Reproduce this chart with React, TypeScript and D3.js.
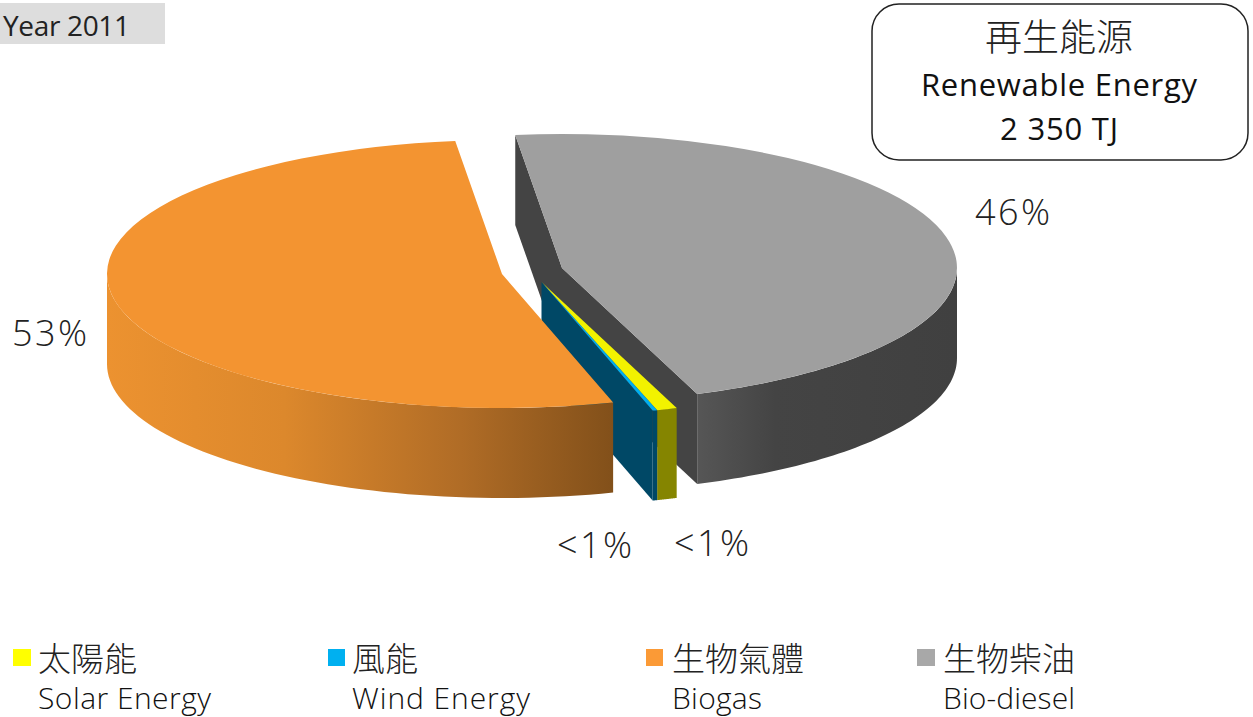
import React from "react";
import * as d3 from "d3";

const categoriesZh = ["生物柴油", "太陽能", "風能", "生物氣體"];
const categoriesEn = ["Bio-diesel", "Solar Energy", "Wind Energy", "Biogas"];
const shares = [46.33, 0.83, 0.19, 52.65];
const pctLabels = ["46%", "<1%", "<1%", "53%"];
const topColors = ["#9f9f9f", "#f2f200", "#00aeef", "#f39431"];
const legendColors = ["#a8a8a8", "#ffff00", "#00b0f0", "#fb9a36"];
const wallColors = ["#444444", "#858500", "#004866", "#8a541c"];

const W = 1253, H = 717;
const RX = 395, RY = 134, DEPTH = 90;
const START = (-6.8 * Math.PI) / 180;
const apex: [number, number][] = [[562, 268], [541.5, 282], [541.5, 282], [502, 274]];
const labelPos: [number, number][] = [[975, 225], [674, 556], [557, 558], [12, 346]];
const labelWidth = 75;
const legendOrder = [1, 2, 3, 0];
const legendSquareX = [13, 328, 646, 917];
const legendSquareW = [18, 17, 17, 18];
const legendTextX = [38, 352, 672, 943];
const legendEnW = [173, 178, 90, 132];
const legendZhSize = 33;
const legendEnSize = 30;

const pieGen = d3.pie<number>().sort(null).value(d => d).startAngle(START).endAngle(START + 2 * Math.PI);
const arcs = pieGen(shares);
const arcGen = d3.arc<any>().innerRadius(0).outerRadius(RX);
const HALF = Math.PI / 2;

function pt(i: number, a: number, dy = 0): [number, number] {
  return [apex[i][0] + RX * Math.sin(a), apex[i][1] - RY * Math.cos(a) + dy];
}
const line = d3.line();
function wall(i: number, a0: number, a1: number) {
  const from = Math.max(a0, i === 3 ? a0 : HALF);
  const to = Math.min(a1, i === 3 ? Math.PI * 1.5 : a1);
  const n = 60;
  const angles = d3.range(n + 1).map(k => from + ((to - from) * k) / n);
  const top = angles.map(a => pt(i, a));
  const bottom = angles.map(a => pt(i, a, DEPTH)).reverse();
  return line([...top, ...bottom]) + "Z";
}
function cutFace(i: number, a: number) {
  const [x, y] = apex[i];
  const p = pt(i, a);
  return line([[x, y], p, [p[0], p[1] + DEPTH], [x, y + DEPTH]]) + "Z";
}

const LATIN = "'Open Sans', sans-serif";
const CJK = "'Noto Sans CJK TC', sans-serif";

export default function App() {
  const draw = [0, 1, 2, 3];
  return (
    <svg width={W} height={H} viewBox={`0 0 ${W} ${H}`} style={{ position: "absolute", left: 0, top: 0, display: "block", background: "#fff" }}>
      <defs>
        <linearGradient id="wallOrange" gradientUnits="userSpaceOnUse" x1={107} x2={613} y1={0} y2={0}>
          <stop offset="0" stopColor="#ec9230" />
          <stop offset="0.35" stopColor="#dc882c" />
          <stop offset="0.7" stopColor="#b06c26" />
          <stop offset="1" stopColor="#82501a" />
        </linearGradient>
        <linearGradient id="wallGray" gradientUnits="userSpaceOnUse" x1={697} x2={957} y1={0} y2={0}>
          <stop offset="0" stopColor="#565656" />
          <stop offset="0.3" stopColor="#444444" />
          <stop offset="1" stopColor="#404040" />
        </linearGradient>
      </defs>

      <rect x={0} y={3} width={165} height={41} fill="#dddddd" />
      <text x={3} y={36} fontFamily={LATIN} fontSize={28} fill="#222" textLength={127} lengthAdjust="spacing">Year 2011</text>

      {draw.map(i => {
        const d = arcs[i];
        const wallFill = i === 0 ? "url(#wallGray)" : i === 3 ? "url(#wallOrange)" : wallColors[i];
        return (
          <g key={categoriesEn[i]}>
            {i === 0 && <path d={cutFace(i, d.startAngle)} fill={wallColors[0]} />}
            {i === 0 && <path d={cutFace(i, d.endAngle)} fill={wallColors[0]} />}
            {i === 2 && <path d={cutFace(i, d.endAngle)} fill={wallColors[2]} />}
            <path d={wall(i, d.startAngle, d.endAngle)} fill={wallFill} />
            <path
              d={arcGen(d) as string}
              transform={`translate(${apex[i][0]},${apex[i][1]}) scale(1,${RY / RX})`}
              fill={topColors[i]}
            />
          </g>
        );
      })}

      {pctLabels.map((t, i) => (
        <text key={i} x={labelPos[i][0]} y={labelPos[i][1]} fontFamily={LATIN} fontWeight={300} fontSize={36} fill="#222" textLength={labelWidth} lengthAdjust="spacing">{t}</text>
      ))}

      <rect x={872} y={4} width={376} height={156} rx={27} ry={27} fill="#fff" stroke="#222" strokeWidth={1.5} />
      <text x={1059} y={51} textAnchor="middle" fontFamily={CJK} fontWeight={300} fontSize={37} fill="#222">再生能源</text>
      <text x={921} y={96} fontFamily={LATIN} fontSize={31} fill="#111" textLength={276} lengthAdjust="spacing">Renewable Energy</text>
      <text x={1000} y={140} fontFamily={LATIN} fontSize={31} fill="#111" textLength={118} lengthAdjust="spacing">2 350 TJ</text>

      {legendOrder.map((c, k) => (
        <g key={c}>
          <rect x={legendSquareX[k]} y={649} width={legendSquareW[k]} height={17} fill={legendColors[c]} />
          <text x={legendTextX[k]} y={671} fontFamily={CJK} fontWeight={300} fontSize={legendZhSize} fill="#222">{categoriesZh[c]}</text>
          <text x={legendTextX[k]} y={709} fontFamily={LATIN} fontWeight={300} fontSize={legendEnSize} fill="#111" textLength={legendEnW[k]} lengthAdjust="spacing">{categoriesEn[c]}</text>
        </g>
      ))}
    </svg>
  );
}
